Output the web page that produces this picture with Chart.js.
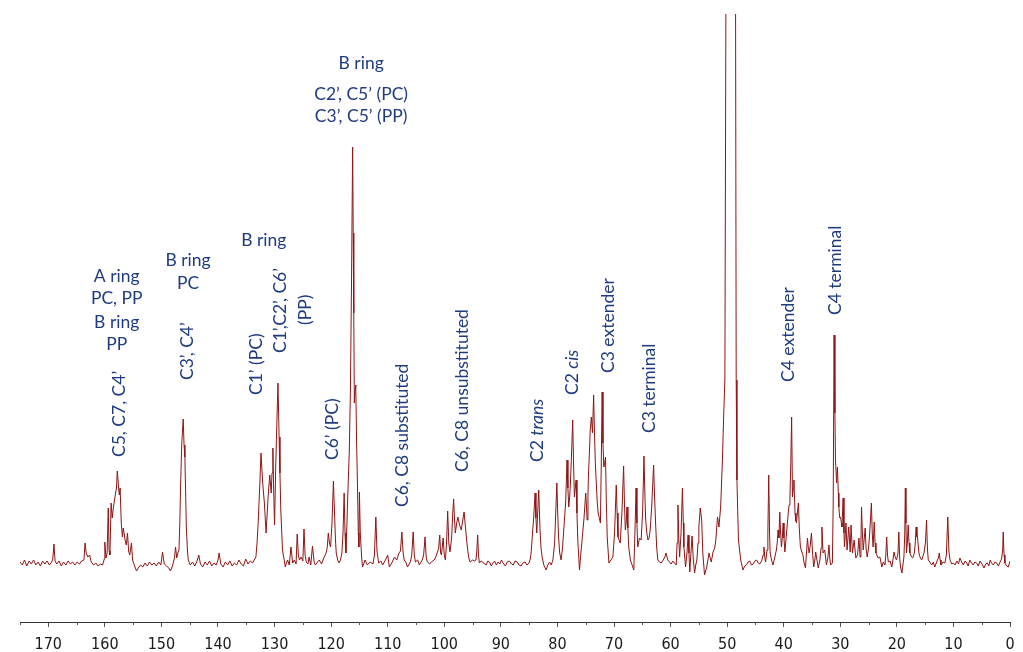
<!DOCTYPE html>
<html>
<head>
<meta charset="utf-8">
<script src="https://cdn.jsdelivr.net/npm/chart.js@4/dist/chart.umd.min.js"></script>
<style>
  html, body { margin: 0; padding: 0; background: #fff; }
  canvas { display: block; }
</style>
</head>
<body>
<canvas id="nmr" width="1023" height="652"></canvas>
<script>
// 13C NMR spectrum, chemical shift (ppm) vs. intensity (arbitrary units, baseline = 0)

const aromaticLow = [
  [175.0,1],[174.6,-2],[174.2,3],[173.8,-3],[173.4,2],[173.0,-1],[172.6,3],[172.2,-2],[171.8,1],[171.4,-3],
  [171.0,2],[170.6,-1],[170.2,2],[169.8,-2],[169.4,1],[169.2,4],[169.0,19],[168.8,2],[168.5,-1],[168.1,2],
  [167.7,-3],[167.3,1],[166.9,-2],[166.5,2],[166.1,-1],[165.7,1],[165.3,-2],[164.9,1],[164.5,-1],[164.1,2],
  [163.7,3],[163.5,20],[163.3,10],[163.0,6],[162.7,8],[162.4,1],[162.0,-2],[161.6,0],[161.2,-3],[160.8,-1],
  [160.4,-2],[160.1,4],[160.0,21],[159.8,5],[159.6,10],[159.4,55],[159.25,12],[159.1,8],[158.9,60],[158.7,45],
  [158.5,55],[158.3,63],[158.1,70],[157.95,75],[157.8,92],[157.6,78],[157.45,68],[157.3,75],[157.1,40],[156.9,26],
  [156.75,35],[156.6,30],[156.4,22],[156.2,18],[156.0,30],[155.8,12],[155.6,8],[155.3,20],[155.1,3],[154.8,-2],
  [154.4,-8],[154.1,-5],[153.7,-2],[153.3,-4],[152.9,0],[152.5,-3],[152.1,1],[151.7,-2],[151.3,0],[150.9,-3],
  [150.5,1],[150.1,-2],[149.8,11],[149.5,-1],[149.1,-3],[148.7,-5],[148.4,-8],[148.0,-2],[147.7,5],[147.5,16],
  [147.3,5],[147.1,10],[146.9,13],[146.75,40],[146.6,80],[146.4,120],[146.15,144],[146.0,118],[145.85,106],[145.6,36],
  [145.4,12],[145.25,3]
];

const ringB = [
  [144.9,-2],[144.5,1],[144.1,-3],[143.7,2],[143.4,8],[143.1,-1],[142.7,-4],[142.3,1],[141.9,-2],[141.5,2],
  [141.1,-3],[140.7,0],[140.3,-2],[140.0,3],[139.8,10],[139.5,-1],[139.1,-4],[138.7,1],[138.3,-2],[137.9,2],
  [137.5,-3],[137.1,0],[136.7,-2],[136.3,3],[135.9,-1],[135.5,-3],[135.1,4],[134.7,-1],[134.3,2],[133.9,0],
  [133.6,3],[133.3,6],[133.1,20],[132.9,40],[132.6,80],[132.4,110],[132.25,95],[132.1,80],[131.8,60],[131.5,30],
  [131.3,50],[131.1,70],[130.85,88],[130.6,70],[130.45,90],[130.3,115],[130.15,70],[130.0,38],[129.8,96],[129.6,140],
  [129.4,180],[129.2,126],[129.05,90],[128.9,53],[128.6,13],[128.3,3],[128.1,-4],[127.9,0],[127.7,3],[127.4,-2],
  [127.1,16],[126.8,0],[126.5,3],[126.2,-1],[126.0,29],[125.8,8],[125.6,3],[125.3,6],[125.0,2],[124.8,34],
  [124.6,8],[124.4,1],[124.1,-1],[123.9,6],[123.6,-2],[123.3,17],[123.0,1],[122.8,-2],[122.4,1],[122.1,3],
  [121.7,-1],[121.3,5],[120.9,10],[120.7,15],[120.5,30],[120.3,20],[120.1,16],[119.85,40],[119.6,82],[119.4,50],
  [119.25,25],[119.1,10],[118.85,3],[118.6,0],[118.35,3],[118.1,10],[117.9,30],[117.7,70],[117.55,30],[117.4,10],
  [117.2,40],[117.05,70],[116.8,110],[116.6,170],[116.4,280],[116.2,416],[116.1,330],[116.0,250],[115.9,160],[115.75,175],
  [115.65,178],[115.5,120],[115.35,80],[115.2,30],[115.1,16],[115.0,71],[114.85,30],[114.6,5],[114.45,-4]
];

const ringAC = [
  [114.0,3],[113.6,-2],[113.1,1],[112.6,-1],[112.35,8],[112.1,46],[111.9,12],[111.6,0],[111.2,2],[110.9,-2],
  [110.4,3],[110.0,8],[109.7,-4],[109.2,1],[108.8,6],[108.4,3],[108.0,10],[107.75,12],[107.5,31],[107.3,12],
  [107.1,3],[106.8,1],[106.5,-4],[106.0,1],[105.75,8],[105.5,31],[105.3,8],[105.1,1],[104.7,3],[104.4,-2],
  [103.9,3],[103.65,8],[103.4,26],[103.2,6],[103.0,1],[102.6,-1],[102.3,1],[101.8,3],[101.5,6],[101.2,11],
  [101.0,15],[100.8,28],[100.65,10],[100.5,8],[100.2,25],[100.0,8],[99.8,3],[99.6,20],[99.4,52],[99.2,20],
  [99.0,11],[98.7,25],[98.5,50],[98.35,64],[98.2,45],[98.05,30],[97.8,40],[97.6,46],[97.3,38],[97.0,33],
  [96.75,42],[96.5,51],[96.25,35],[96.0,20],[95.7,6],[95.45,1],[95.0,3],[94.7,2],[94.4,3],[94.25,12],
  [94.1,28],[93.95,8],[93.8,0],[93.5,2],[93.2,1],[92.9,-1],[92.6,-2],[92.3,2],[92.0,1],[91.7,-3],
  [91.4,0],[91.1,2],[90.8,-2],[90.5,1],[90.2,-1],[89.9,3],[89.6,0],[89.2,-3],[88.9,1],[88.5,2],
  [88.1,-1],[87.8,-2],[87.5,2],[87.1,1],[86.8,-2],[86.4,-3],[86.1,0],[85.7,1],[85.4,-2],[85.0,0],
  [84.8,4]
];

const ringC = [
  [84.65,10],[84.4,30],[84.2,45],[83.95,70],[83.8,45],[83.65,30],[83.5,50],[83.3,73],[83.15,45],[83.05,30],
  [82.9,15],[82.7,6],[82.4,-2],[82.0,-7],[81.7,-2],[81.4,1],[81.1,-2],[80.8,3],[80.5,20],[80.3,50],
  [80.1,80],[79.95,50],[79.8,26],[79.6,10],[79.35,3],[79.1,15],[78.8,40],[78.55,60],[78.3,103],[78.15,75],
  [78.0,56],[77.85,65],[77.7,80],[77.5,110],[77.3,143],[77.15,100],[77.0,66],[76.85,75],[76.7,83],[76.55,50],
  [76.4,23],[76.1,-7],[75.85,10],[75.6,26],[75.3,45],[75.0,70],[74.85,55],[74.75,43],[74.6,70],[74.5,90],
  [74.35,110],[74.2,133],[74.0,146],[73.8,130],[73.6,168],[73.45,130],[73.3,100],[73.1,76],[72.95,60],[72.8,50],
  [72.6,45],[72.4,40],[72.25,100],[72.1,171],[71.95,120],[71.8,96],[71.65,100],[71.5,106],[71.35,60],[71.2,26],
  [70.9,0],[70.55,3],[70.2,6],[69.9,30],[69.6,78],[69.45,50],[69.3,26],[68.9,20],[68.6,50],[68.3,97],
  [68.15,60],[68.0,33],[67.85,40],[67.7,56],[67.55,35],[67.4,16],[67.1,3],[66.8,-2],[66.5,-7],[66.3,30],
  [66.1,75],[65.95,40],[65.8,16],[65.5,25],[65.2,23],[64.95,50],[64.7,107],[64.55,70],[64.4,43],[64.2,30],
  [64.0,23],[63.8,25],[63.6,33],[63.3,60],[63.0,98],[62.85,70],[62.65,40],[62.45,15],[62.25,3],[61.95,1],
  [61.65,0],[61.3,3],[61.0,6],[60.8,10],[60.5,3],[60.2,1]
];

// methanol-d4 solvent peak runs off the top of the plot
const solvent = [
  [59.9,-1],[59.6,2],[59.3,0],[59.0,-2],[58.85,20],[58.7,58],[58.55,25],[58.4,6],[58.15,30],[57.9,75],
  [57.75,40],[57.65,16],[57.35,-4],[57.1,10],[56.9,28],[56.75,10],[56.6,-9],[56.4,10],[56.2,27],[56.0,5],
  [55.75,-10],[55.55,-2],[55.35,3],[55.15,20],[55.0,36],[54.75,55],[54.5,43],[54.3,10],[54.0,-12],[53.8,-8],
  [53.6,-4],[53.4,3],[53.2,10],[53.0,5],[52.8,1],[52.5,11],[52.2,15],[52.0,23],[51.85,35],[51.7,46],
  [51.45,36],[51.15,56],[50.85,100],[50.6,150],[50.4,183],[50.15,700],[49.3,5000],[48.55,700],[48.4,183],[48.27,83],
  [48.0,23],[47.6,3],[47.2,-7],[46.9,-3],[46.6,-2],[46.3,1],[46.0,2],[45.7,-2],[45.4,-1],[45.1,2],
  [44.8,3],[44.5,0],[44.25,-1],[43.9,2],[43.65,8],[43.5,16],[43.35,6],[43.2,1],[42.95,13],[42.8,30],
  [42.65,88],[42.5,30],[42.4,10],[42.15,3],[41.9,-2],[41.6,5]
];

const aliphatic = [
  [41.3,13],[41.15,20],[41.0,33],[40.85,25],[40.7,51],[40.55,30],[40.4,16],[40.25,25],[40.1,40],[39.95,25],
  [39.8,11],[39.65,20],[39.5,30],[39.35,40],[39.2,50],[39.05,58],[38.9,65],[38.75,100],[38.6,146],[38.45,66],
  [38.3,75],[38.2,83],[38.0,50],[37.85,42],[37.75,40],[37.55,52],[37.4,60],[37.25,35],[37.05,16],[36.85,12],
  [36.6,8],[36.4,0],[36.15,-5],[36.0,8],[35.8,25],[35.65,15],[35.5,10],[35.3,18],[35.1,30],[34.9,10],
  [34.7,-4],[34.5,3],[34.35,11],[34.1,2],[33.9,-5],[33.6,3],[33.4,15],[33.25,36],[33.05,10],[32.75,13],
  [32.45,-2],[32.2,5],[32.0,18],[31.85,4],[31.7,-2],[31.4,0],[31.25,60],[31.1,228],[30.95,150],[30.85,103],
  [30.65,80],[30.5,96],[30.35,70],[30.25,56],[30.1,45],[29.95,46],[29.8,40],[29.7,36],[29.5,65],[29.35,30],
  [29.25,16],[29.0,40],[28.8,13],[28.5,36],[28.25,11],[28.1,38],[27.85,10],[27.55,23],[27.25,5],[26.95,8],
  [26.7,25],[26.5,6],[26.35,20],[26.25,56],[26.1,30],[25.95,13],[25.6,35],[25.45,15],[25.25,6],[25.0,15],
  [24.8,30],[24.65,45],[24.5,60],[24.35,30],[24.2,16],[24.0,41],[23.85,20],[23.7,10],[23.3,5],[23.0,6],
  [22.65,-4],[22.4,1],[22.1,-2],[21.95,8],[21.8,26],[21.65,8],[21.5,1],[21.2,2],[20.9,-4],[20.7,3],
  [20.5,11],[20.25,5],[20.05,3],[19.8,10],[19.65,31],[19.5,5],[19.35,-4],[19.1,-10],[18.75,6],[18.6,30],
  [18.5,75],[18.4,40],[18.3,10],[18.15,20],[18.0,38],[17.85,20],[17.7,10],[17.4,6],[17.2,5],[16.9,10],
  [16.75,20],[16.6,36],[16.45,26],[16.35,26],[16.1,10],[15.85,5],[15.6,3],[15.2,10],[14.95,20],[14.75,43],
  [14.6,15],[14.45,3],[14.15,1],[13.85,-2],[13.55,1],[13.3,-4],[12.9,2],[12.65,5],[12.5,10],[12.35,3],
  [12.2,-2],[11.85,1],[11.5,0],[11.25,8],[11.0,46],[10.8,12],[10.6,3],[10.3,-1],[10.0,0],[9.7,-2],
  [9.4,2],[9.1,-1],[8.85,5],[8.55,1],[8.25,-2],[7.95,2],[7.65,0],[7.4,-3],[7.1,3],[6.8,0],
  [6.5,-2],[6.2,1],[5.9,0],[5.6,-3],[5.3,2],[4.95,-1],[4.6,-5],[4.3,-1],[4.0,0],[3.75,-3],
  [3.5,3],[3.25,0],[2.95,-2],[2.65,1],[2.35,0],[2.05,-3],[1.75,1],[1.5,4],[1.3,12],[1.2,31],
  [1.05,8],[0.9,0],[0.6,-3],[0.3,-4],[0.0,2]
];

// axis ticks every 5 ppm, labelled every 10
const axisTicks = [175,170,165,160,155,150,145,140,135,130,125,120,115,110,105,100,95,90,85,80,75,70,65,60,55,50,45,40,35,30,25,20,15,10,5,0];

// horizontal group headings: text, shift, height
const headings = [
  ['B ring', 114.7, 500],
  ['C2’, C5’ (PC)', 114.7, 469],
  ['C3’, C5’ (PP)', 114.7, 447],
  ['A ring', 157.9, 287],
  ['PC, PP', 157.9, 265],
  ['B ring', 157.9, 241],
  ['PP', 157.9, 219],
  ['B ring', 145.3, 303],
  ['PC', 145.3, 280],
  ['B ring', 131.9, 323]
];

// vertical assignments: text, italic tail, shift, height of the text start
const assignments = [
  ['C5, C7, C4’', '', 157.4, 106],
  ['C3’, C4’', '', 145.5, 183],
  ['C1’ (PC)', '', 133.3, 168],
  ['C1’,C2’, C6’', '', 128.9, 210],
  ['(PP)', '', 124.5, 238],
  ['C6’ (PC)', '', 119.8, 103],
  ['C6, C8 substituted', '', 107.4, 56],
  ['C6, C8 unsubstituted', '', 96.8, 91],
  ['C2 ', 'trans', 83.5, 101],
  ['C2 ', 'cis', 77.3, 168],
  ['C3 extender', '', 71.0, 190],
  ['C3 terminal', '', 63.7, 130],
  ['C4 extender', '', 39.1, 181],
  ['C4 terminal', '', 30.8, 248]
];

const LINE_COLOR  = '#8e1414';
const LABEL_COLOR = '#1f3b80';
const LABEL_FONT  = "Lato, 'Noto Sans', sans-serif";
const TICK_FONT   = "'DejaVu Sans Condensed', 'Liberation Sans', sans-serif";

const spectrum = [...aromaticLow, ...ringB, ...ringAC, ...ringC, ...solvent, ...aliphatic];

// shorter ticks at the odd 5 ppm positions
const minorTicks = {
  id: 'minorTicks',
  afterDraw(chart) {
    const { ctx, chartArea } = chart;
    const x = chart.scales.x;
    ctx.save();
    ctx.strokeStyle = '#555';
    ctx.lineWidth = 1;
    axisTicks.filter(v => v % 10 !== 0).forEach(v => {
      const px = Math.round(x.getPixelForValue(v)) + 0.5;
      ctx.beginPath();
      ctx.moveTo(px, chartArea.bottom);
      ctx.lineTo(px, chartArea.bottom + 3);
      ctx.stroke();
    });
    ctx.restore();
  }
};

const peakLabels = {
  id: 'peakLabels',
  afterDatasetsDraw(chart) {
    const { ctx } = chart;
    const x = chart.scales.x, y = chart.scales.y;
    const size = 17.5;
    ctx.save();
    ctx.fillStyle = LABEL_COLOR;
    ctx.textBaseline = 'middle';

    ctx.font = `${size}px ${LABEL_FONT}`;
    ctx.textAlign = 'center';
    headings.forEach(([text, ppm, level]) => {
      ctx.fillText(text, x.getPixelForValue(ppm), y.getPixelForValue(level));
    });

    ctx.textAlign = 'left';
    assignments.forEach(([text, tail, ppm, level]) => {
      ctx.save();
      ctx.translate(x.getPixelForValue(ppm), y.getPixelForValue(level));
      ctx.rotate(-Math.PI / 2);
      ctx.font = `${size}px ${LABEL_FONT}`;
      ctx.fillText(text, 0, 0);
      if (tail) {
        const w = ctx.measureText(text).width;
        ctx.font = `italic ${size}px ${LABEL_FONT}`;
        ctx.fillText(tail, w, 0);
      }
      ctx.restore();
    });
    ctx.restore();
  }
};

new Chart(document.getElementById('nmr'), {
  type: 'line',
  data: {
    datasets: [{
      data: spectrum.map(([ppm, v]) => ({ x: ppm, y: v })),
      borderColor: LINE_COLOR,
      borderWidth: 1,
      pointRadius: 0,
      tension: 0,
      fill: false
    }]
  },
  options: {
    responsive: false,
    animation: false,
    events: [],
    layout: { padding: { top: 14, left: 20, right: 13, bottom: 0 } },
    plugins: { legend: { display: false }, tooltip: { enabled: false } },
    scales: {
      x: {
        type: 'linear',
        reverse: true,
        min: 0,
        max: 175,
        afterBuildTicks: s => { s.ticks = axisTicks.map(v => ({ value: v })); },
        afterFit: s => { s.height = 30; },
        grid: {
          drawOnChartArea: false,
          tickLength: 5,
          color: c => (c.tick && c.tick.value % 10 === 0) ? '#555' : 'rgba(0,0,0,0)'
        },
        border: { display: true, color: '#333', width: 1 },
        ticks: {
          autoSkip: false,
          maxRotation: 0,
          padding: 8,
          color: '#1a1a1a',
          font: { family: TICK_FONT, size: 16 },
          callback: v => (v % 10 === 0 ? String(v) : '')
        }
      },
      y: { display: false, min: -59, max: 549 }
    }
  },
  plugins: [minorTicks, peakLabels]
});
</script>
</body>
</html>
